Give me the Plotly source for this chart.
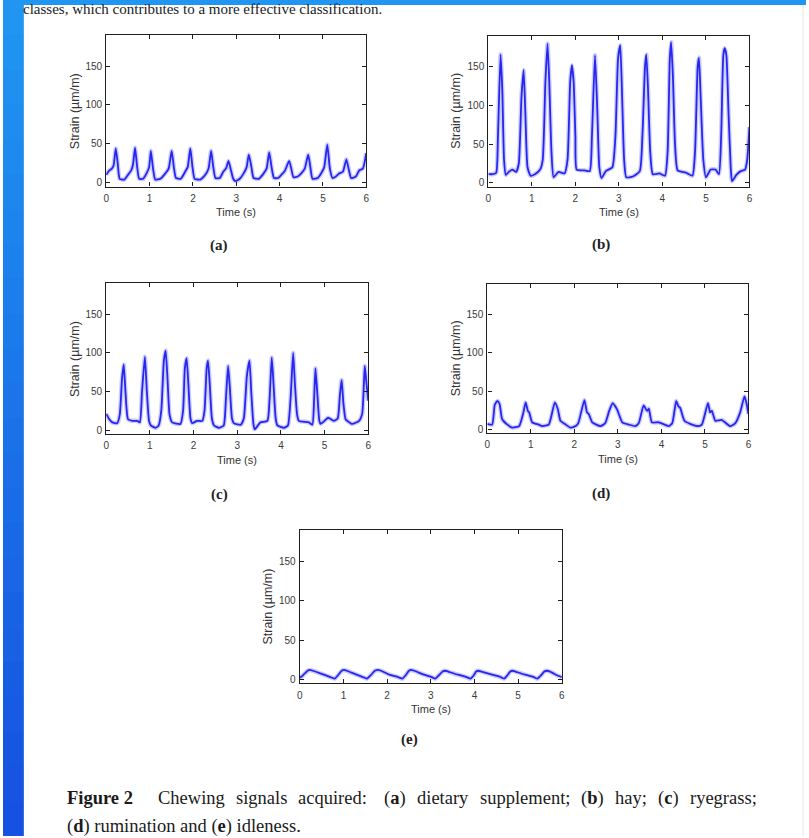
import plotly.graph_objects as go

W, H = 809, 838

# ---------------- data ----------------
t_a = [0.00, 0.06, 0.13, 0.17, 0.22, 0.27, 0.31, 0.42, 0.50, 0.58, 0.62, 0.665, 0.71, 0.76, 0.85, 0.93, 0.99, 1.03, 1.08, 1.13,
       1.25, 1.35, 1.44, 1.51, 1.56, 1.61, 1.72, 1.82, 1.88, 1.94, 1.99, 2.04, 2.17, 2.27, 2.36, 2.42, 2.47, 2.52, 2.62, 2.70,
       2.77, 2.82, 2.87, 2.93, 2.98, 3.08, 3.16, 3.24, 3.29, 3.35, 3.40, 3.52, 3.62, 3.70, 3.76, 3.82, 3.87, 3.97, 4.04, 4.12,
       4.22, 4.27, 4.32, 4.42, 4.50, 4.58, 4.66, 4.71, 4.76, 4.88, 4.96, 5.03, 5.10, 5.16, 5.22, 5.30, 5.38, 5.46, 5.54, 5.60,
       5.65, 5.76, 5.84, 5.92, 6.00]
v_a = [10, 15, 18, 22, 44, 22, 5, 4, 10, 16, 24, 45, 22, 5, 5, 12, 20, 41, 18, 4,
       5, 11, 18, 41, 20, 6, 5, 14, 20, 44, 20, 5, 4, 9, 18, 41, 20, 6, 6, 14,
       19, 28, 18, 5, 2, 5, 11, 20, 36, 20, 6, 5, 11, 18, 39, 18, 6, 6, 10, 15,
       28, 18, 7, 8, 12, 18, 36, 20, 5, 6, 12, 20, 49, 18, 6, 8, 12, 14, 30, 16,
       6, 8, 16, 18, 38]

t_b = [0.00, 0.10, 0.18, 0.22, 0.28, 0.32, 0.36, 0.40, 0.47, 0.55, 0.64, 0.70, 0.76, 0.81, 0.85, 0.90, 0.97, 1.07, 1.19, 1.25,
       1.31, 1.36, 1.40, 1.45, 1.50, 1.61, 1.75, 1.82, 1.88, 1.92, 1.96, 2.00, 2.03, 2.20, 2.33, 2.38, 2.45, 2.50, 2.55, 2.60,
       2.70, 2.85, 2.92, 2.98, 3.03, 3.07, 3.12, 3.17, 3.32, 3.48, 3.54, 3.60, 3.63, 3.67, 3.72, 3.78, 3.93, 4.06, 4.12, 4.17,
       4.20, 4.24, 4.29, 4.35, 4.54, 4.69, 4.75, 4.81, 4.84, 4.88, 4.94, 5.00, 5.11, 5.22, 5.30, 5.35, 5.40, 5.43, 5.47, 5.52,
       5.57, 5.60, 5.70, 5.80, 5.90, 5.95, 6.00]
v_b = [11, 11, 13, 60, 166, 120, 30, 10, 14, 17, 14, 25, 110, 146, 90, 20, 9, 11, 17, 30,
       130, 180, 130, 40, 7, 14, 12, 30, 130, 152, 130, 60, 17, 16, 15, 60, 165, 100, 20, 6,
       15, 20, 60, 160, 178, 120, 30, 7, 8, 15, 60, 150, 166, 120, 40, 11, 12, 9, 40, 160,
       182, 140, 50, 16, 13, 9, 40, 150, 162, 110, 30, 7, 17, 17, 11, 60, 165, 174, 165, 90,
       20, 2, 10, 15, 17, 30, 72]

t_c = [0.00, 0.07, 0.14, 0.25, 0.31, 0.36, 0.40, 0.44, 0.50, 0.60, 0.71, 0.77, 0.82, 0.885, 0.93, 0.98, 1.02, 1.13, 1.20, 1.26,
       1.32, 1.36, 1.40, 1.45, 1.51, 1.70, 1.76, 1.80, 1.84, 1.88, 1.93, 1.97, 2.08, 2.20, 2.25, 2.30, 2.33, 2.37, 2.42, 2.47,
       2.58, 2.69, 2.74, 2.79, 2.83, 2.88, 2.92, 3.08, 3.15, 3.22, 3.28, 3.32, 3.37, 3.40, 3.53, 3.69, 3.74, 3.79, 3.83, 3.88,
       3.92, 4.07, 4.16, 4.22, 4.28, 4.32, 4.37, 4.41, 4.64, 4.72, 4.76, 4.79, 4.83, 4.88, 4.91, 5.00, 5.08, 5.21, 5.30, 5.35,
       5.39, 5.43, 5.48, 5.52, 5.63, 5.79, 5.86, 5.90, 5.92, 5.96, 6.00]
v_c = [21, 14, 10, 9, 20, 65, 85, 50, 14, 12, 12, 10, 50, 95, 50, 12, 6, 3, 6, 25,
       90, 103, 70, 20, 10, 8, 25, 80, 93, 60, 15, 9, 12, 12, 25, 80, 90, 60, 15, 6,
       3, 6, 40, 83, 55, 15, 9, 7, 15, 70, 90, 50, 8, 1, 10, 12, 40, 94, 60, 15,
       6, 3, 6, 40, 100, 60, 20, 12, 10, 7, 40, 80, 50, 12, 8, 12, 16, 12, 15, 45,
       65, 35, 14, 12, 8, 12, 21, 60, 83, 60, 38]

t_d = [0.00, 0.11, 0.17, 0.23, 0.28, 0.34, 0.46, 0.57, 0.73, 0.82, 0.88, 0.93, 0.96, 1.03, 1.18, 1.26, 1.41, 1.47, 1.55, 1.62,
       1.68, 1.80, 1.91, 2.03, 2.09, 2.23, 2.29, 2.33, 2.41, 2.60, 2.71, 2.80, 2.88, 2.98, 3.10, 3.25, 3.40, 3.48, 3.59, 3.67,
       3.71, 3.78, 3.94, 4.17, 4.25, 4.34, 4.39, 4.43, 4.53, 4.66, 4.85, 4.93, 5.07, 5.12, 5.16, 5.24, 5.39, 5.58, 5.70, 5.81,
       5.91, 5.96, 6.00]
v_d = [7, 6, 32, 37, 33, 13, 6, 2, 4, 20, 35, 24, 22, 9, 6, 4, 6, 17, 35, 26,
       11, 6, 2, 4, 8, 38, 22, 20, 9, 4, 8, 24, 34, 26, 9, 6, 4, 8, 31, 24,
       27, 9, 9, 4, 8, 37, 30, 28, 11, 7, 4, 6, 34, 22, 24, 11, 12, 4, 8, 22,
       43, 33, 20]

t_e = [0.00, 0.05, 0.18, 0.23, 0.30, 0.50, 0.70, 0.80, 0.87, 0.96, 1.01, 1.08, 1.30, 1.45, 1.54, 1.62, 1.72, 1.79, 1.86, 2.05,
       2.25, 2.35, 2.42, 2.50, 2.55, 2.62, 2.85, 3.02, 3.10, 3.18, 3.27, 3.33, 3.40, 3.62, 3.82, 3.91, 3.98, 4.04, 4.09, 4.16,
       4.40, 4.60, 4.68, 4.75, 4.82, 4.87, 4.94, 5.16, 5.36, 5.44, 5.52, 5.60, 5.66, 5.73, 5.90, 6.00]
v_e = [2, 4, 11, 12, 11, 7, 3, 1, 5, 11, 12, 11, 6, 3, 1, 5, 11, 12, 11, 6,
       3, 1, 5, 11, 12, 11, 6, 3, 1, 5, 10, 11, 10, 6, 3, 1, 5, 10, 11, 10,
       6, 3, 1, 5, 10, 11, 10, 6, 3, 1, 5, 10, 11, 10, 5, 3]

x_ticks = [0, 1, 2, 3, 4, 5, 6]
y_ticks = [0, 50, 100, 150]
x_range = [0, 6]
y_range = [-5, 190]
panel_letters = ["a", "b", "c", "d", "e"]
x_title = "Time (s)"
y_title = "Strain (\u00b5m/m)"
top_text = "classes, which contributes to a more effective classification."
caption_line1_words = ["<b>Figure 2</b>", "Chewing", "signals", "acquired:", "(<b>a</b>)", "dietary",
                       "supplement;", "(<b>b</b>)", "hay;", "(<b>c</b>)", "ryegrass;"]
caption_line2 = "(<b>d</b>) rumination and (<b>e</b>) idleness."

# layout: justified word positions (px, left edges) for caption line 1
caption_line1_x = [67, 159, 237.4, 300.5, 386.9, 420.2, 483.2, 585.3, 619.5, 663.0, 695.2]

series = [(t_a, v_a), (t_b, v_b), (t_c, v_c), (t_d, v_d), (t_e, v_e)]

# panel boxes in pixels: left, right, top, bottom
boxes = [(104, 366, 35, 187), (489, 752, 36, 187), (104, 368, 284, 435),
         (488, 751, 285, 434), (299, 563, 531, 685)]
letter_pos = [(218, 246), (602, 245), (218, 496), (602, 495), (410, 741)]

fig = go.Figure()
shapes = []
annotations = []

# page background: blue desktop + white page
nb = 24
for i in range(nb):
    f = i / (nb - 1)
    r = int(32 + (22 - 32) * f)
    g = int(150 + (82 - 150) * f)
    b = int(242 + (225 - 242) * f)
    shapes.append(dict(type="rect", xref="paper", yref="paper", layer="below",
                       x0=0, x1=1, y0=max(0, 1 - (i + 1) / nb - 0.004), y1=1 - i / nb,
                       fillcolor=f"rgb({r},{g},{b})", line=dict(width=0)))
shapes.append(dict(type="rect", xref="paper", yref="paper", layer="below",
                   x0=21 / W, x1=1, y0=0, y1=1 - 5 / H,
                   fillcolor="white", line=dict(width=0)))
shapes.append(dict(type="line", xref="paper", yref="paper", layer="below",
                   x0=806 / W, x1=806 / W, y0=0, y1=1 - 5 / H,
                   line=dict(color="#e6e6e6", width=1)))

for i, ((t, v), (l, r, tp, bt)) in enumerate(zip(series, boxes)):
    n = "" if i == 0 else str(i + 1)
    xa, ya = "x" + n, "y" + n
    fig.add_trace(go.Scatter(x=t, y=v, mode="lines", xaxis=xa, yaxis=ya,
                             line=dict(color="rgba(110,110,255,0.35)", width=4.5, shape="spline", smoothing=0.5),
                             hoverinfo="skip", showlegend=False))
    fig.add_trace(go.Scatter(x=t, y=v, mode="lines", xaxis=xa, yaxis=ya,
                             line=dict(color="#2626ee", width=1.8, shape="spline", smoothing=0.5),
                             showlegend=False))
    axcommon = dict(showline=True, mirror="ticks", linecolor="#1e1e1e", linewidth=1.3,
                    ticks="inside", ticklen=4, tickwidth=1.2, tickcolor="#1e1e1e",
                    showgrid=False, zeroline=False, fixedrange=True,
                    tickfont=dict(family="Liberation Sans, Arial", size=10, color="#3a3a3a"))
    fig.layout["xaxis" + n] = dict(axcommon, domain=[l / W, r / W], range=x_range,
                                   tickvals=x_ticks, ticktext=[str(k) for k in x_ticks],
                                   anchor=ya, ticklabelstandoff=2)
    fig.layout["yaxis" + n] = dict(axcommon, domain=[1 - bt / H, 1 - tp / H], range=y_range,
                                   tickvals=y_ticks, ticktext=[str(k) for k in y_ticks],
                                   anchor=xa, ticklabelstandoff=1)
    cx = (l + r) / 2
    annotations.append(dict(text=x_title, xref="paper", yref="paper", x=cx / W, y=1 - (bt + 26) / H,
                            showarrow=False, xanchor="center", yanchor="middle",
                            font=dict(family="Liberation Sans, Arial", size=11, color="#333")))
    annotations.append(dict(text=y_title, xref="paper", yref="paper", x=(l - 32) / W, y=1 - ((tp + bt) / 2) / H,
                            showarrow=False, xanchor="center", yanchor="middle", textangle=-90,
                            font=dict(family="Liberation Sans, Arial", size=12.5, color="#333")))
    lx, ly = letter_pos[i]
    annotations.append(dict(text=f"<b>({panel_letters[i]})</b>", xref="paper", yref="paper",
                            x=lx / W, y=1 - ly / H, showarrow=False, xanchor="center", yanchor="middle",
                            font=dict(family="Liberation Serif, Times New Roman", size=15, color="#222")))

cap_font = dict(family="Liberation Serif, Times New Roman", size=18.5, color="#1a1a1a")
for txt, px in zip(caption_line1_words, caption_line1_x):
    annotations.append(dict(text=txt, xref="paper", yref="paper", x=(px - 5) / W, y=1 - 800 / H,
                            showarrow=False, xanchor="left", yanchor="middle", font=cap_font))
annotations.append(dict(text=caption_line2, xref="paper", yref="paper", x=(67 - 5) / W, y=1 - 828 / H,
                        showarrow=False, xanchor="left", yanchor="middle", font=cap_font))

annotations.append(dict(text=top_text, xref="paper", yref="paper", x=18 / W, y=1 - 9 / H,
                        showarrow=False, xanchor="left", yanchor="middle",
                        font=dict(family="Liberation Serif, Times New Roman", size=15, color="#222")))

fig.update_layout(width=W, height=H, margin=dict(l=0, r=0, t=0, b=0),
                  paper_bgcolor="white", plot_bgcolor="white",
                  shapes=shapes, annotations=annotations, showlegend=False)

fig.write_html("out.html", config={"displayModeBar": False})
